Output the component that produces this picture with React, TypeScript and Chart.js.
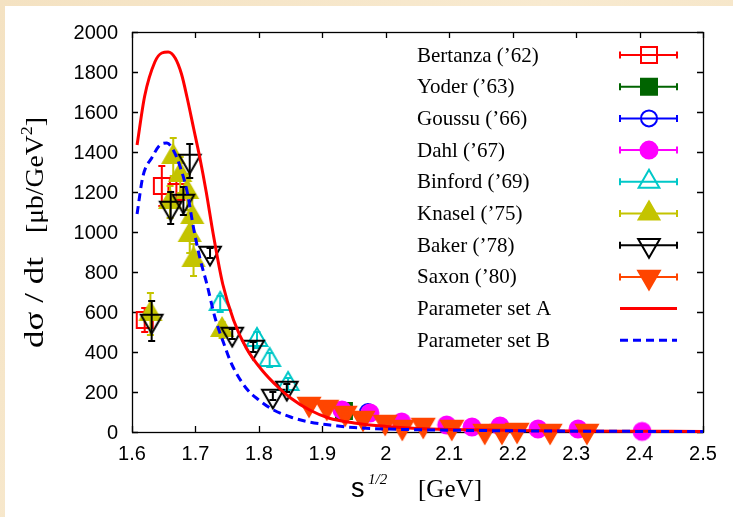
import React, { useEffect, useRef } from "react";
import { Chart, registerables } from "chart.js";

Chart.register(...registerables);

// ---------- axis ticks ----------
const xTickValues = [1.6, 1.7, 1.8, 1.9, 2.0, 2.1, 2.2, 2.3, 2.4, 2.5];
const xTickLabels = ["1.6", "1.7", "1.8", "1.9", "2", "2.1", "2.2", "2.3", "2.4", "2.5"];
const yTickValues = [0, 200, 400, 600, 800, 1000, 1200, 1400, 1600, 1800, 2000];
const yTickLabels = ["0", "200", "400", "600", "800", "1000", "1200", "1400", "1600", "1800", "2000"];

// ---------- data series ----------
const bertanzaX = [1.62, 1.647, 1.67];
const bertanzaY = [560, 1230, 1200];
const bertanzaErr = [60, 100, 60];

const yoderX = [1.934];
const yoderY = [105];
const yoderErr = [10];

const goussuX = [1.972];
const goussuY = [100];
const goussuErr = [10];

const dahlX = [1.931, 1.975, 2.025, 2.096, 2.136, 2.18, 2.24, 2.303, 2.404];
const dahlY = [110, 95, 50, 35, 25, 30, 15, 15, 3];
const dahlErr = [10, 8, 6, 5, 4, 4, 3, 3, 2];

const binfordX = [1.739, 1.797, 1.817, 1.846];
const binfordY = [640, 460, 360, 240];
const binfordErr = [40, 40, 35, 30];

const knaselX = [1.629, 1.66, 1.665, 1.676, 1.687, 1.695, 1.691, 1.697, 1.742];
const knaselY = [590, 1150, 1375, 1285, 1200, 1075, 985, 860, 510];
const knaselErr = [105, 80, 95, 90, 90, 100, 90, 80, 40];

const bakerX = [1.631, 1.661, 1.681, 1.691, 1.723, 1.758, 1.791, 1.822, 1.844];
const bakerY = [555, 1120, 1155, 1355, 895, 490, 425, 180, 220];
const bakerErr = [100, 80, 70, 85, 25, 25, 25, 20, 20];

const saxonX = [1.879, 1.907, 1.936, 1.964, 1.999, 2.026, 2.059, 2.104, 2.156, 2.183, 2.207, 2.259, 2.317];
const saxonY = [140, 125, 95, 70, 50, 25, 35, 25, 5, 5, 10, 5, 5];
const saxonErr = [10, 10, 8, 6, 5, 4, 4, 3, 2, 2, 2, 2, 2];

// ---------- model curves ----------
const curveAX = [1.608, 1.62, 1.636, 1.647, 1.657, 1.668, 1.678, 1.687, 1.697, 1.707, 1.717, 1.728, 1.743, 1.76, 1.78, 1.806, 1.83, 1.85, 1.88, 1.91, 1.95, 2.0, 2.05, 2.1, 2.2, 2.3, 2.4, 2.5];
const curveAY = [1435, 1680, 1850, 1895, 1900, 1870, 1790, 1670, 1520, 1370, 1200, 990, 740, 560, 420, 305, 225, 170, 110, 70, 45, 28, 18, 13, 8, 5, 4, 3];

const curveBX = [1.608, 1.617, 1.632, 1.644, 1.655, 1.665, 1.676, 1.687, 1.697, 1.707, 1.718, 1.731, 1.745, 1.757, 1.781, 1.8, 1.822, 1.85, 1.876, 1.912, 1.95, 2.0, 2.1, 2.2, 2.3, 2.4, 2.5];
const curveBY = [1090, 1275, 1375, 1435, 1445, 1410, 1325, 1200, 1020, 870, 740, 570, 440, 340, 215, 160, 112, 75, 52, 35, 22, 15, 9, 6, 4, 3, 2];

const legendLabels = [
  "Bertanza (\u201962)",
  "Yoder (\u201963)",
  "Goussu (\u201966)",
  "Dahl (\u201967)",
  "Binford (\u201969)",
  "Knasel (\u201975)",
  "Baker (\u201978)",
  "Saxon (\u201980)",
  "Parameter set A",
  "Parameter set B",
];

const TRANSPARENT = "rgba(0,0,0,0)";

function pts(xs: number[], ys: number[]) {
  return xs.map((x, i) => ({ x, y: ys[i] }));
}

type MarkerSpec = {
  label: string;
  xs: number[];
  ys: number[];
  errs: number[];
  color: string;
  style: string;
  radius: number;
  filled: boolean;
  rotation: number;
  order: number;
};

const markerSeries: MarkerSpec[] = [
  { label: legendLabels[0], xs: bertanzaX, ys: bertanzaY, errs: bertanzaErr, color: "#ff0000", style: "rect", radius: 8, filled: false, rotation: 0, order: 10 },
  { label: legendLabels[1], xs: yoderX, ys: yoderY, errs: yoderErr, color: "#006400", style: "rect", radius: 8, filled: true, rotation: 0, order: 9 },
  { label: legendLabels[2], xs: goussuX, ys: goussuY, errs: goussuErr, color: "#0000ff", style: "circle", radius: 8, filled: false, rotation: 0, order: 8 },
  { label: legendLabels[3], xs: dahlX, ys: dahlY, errs: dahlErr, color: "#ff00ff", style: "circle", radius: 8.5, filled: true, rotation: 0, order: 7 },
  { label: legendLabels[4], xs: binfordX, ys: binfordY, errs: binfordErr, color: "#00c8c8", style: "triangle", radius: 12, filled: false, rotation: 0, order: 6 },
  { label: legendLabels[5], xs: knaselX, ys: knaselY, errs: knaselErr, color: "#c4c400", style: "triangle", radius: 12, filled: true, rotation: 0, order: 5 },
  { label: legendLabels[6], xs: bakerX, ys: bakerY, errs: bakerErr, color: "#000000", style: "triangle", radius: 12.5, filled: false, rotation: 180, order: 4 },
  { label: legendLabels[7], xs: saxonX, ys: saxonY, errs: saxonErr, color: "#ff4500", style: "triangle", radius: 12.5, filled: true, rotation: 180, order: 3 },
];

const SERIF = '"Liberation Serif", "Times New Roman", serif';
const SANS = '"Liberation Sans", Arial, sans-serif';

function drawMarker(ctx: CanvasRenderingContext2D, m: MarkerSpec, x: number, y: number) {
  const r = m.radius;
  ctx.save();
  ctx.strokeStyle = m.color;
  ctx.fillStyle = m.color;
  ctx.lineWidth = 2;
  ctx.beginPath();
  if (m.style === "rect") {
    ctx.rect(x - r, y - r, 2 * r, 2 * r);
  } else if (m.style === "circle") {
    ctx.arc(x, y, r, 0, Math.PI * 2);
  } else {
    const rot = (m.rotation * Math.PI) / 180;
    for (let k = 0; k < 3; k++) {
      const a = rot - Math.PI / 2 + (k * 2 * Math.PI) / 3;
      const px = x + Math.cos(a) * r;
      const py = y + Math.sin(a) * r;
      if (k === 0) ctx.moveTo(px, py);
      else ctx.lineTo(px, py);
    }
    ctx.closePath();
  }
  if (m.filled) ctx.fill();
  ctx.stroke();
  ctx.restore();
}

function markerImage(m: MarkerSpec): HTMLCanvasElement {
  const size = 2 * Math.ceil(m.radius) + 6;
  const c = document.createElement("canvas");
  c.width = size;
  c.height = size;
  const cx = c.getContext("2d") as CanvasRenderingContext2D;
  drawMarker(cx, m, size / 2, size / 2);
  return c;
}

type Part = { text: string; font: string; dy?: number };

function drawParts(ctx: CanvasRenderingContext2D, parts: Part[], x: number, y: number, targetWidth?: number) {
  let total = 0;
  const widths = parts.map((p) => {
    ctx.font = p.font;
    const w = ctx.measureText(p.text).width;
    total += w;
    return w;
  });
  const sx = targetWidth ? targetWidth / total : 1;
  ctx.save();
  ctx.translate(x, y);
  ctx.scale(sx, 1);
  let cx = 0;
  parts.forEach((p, i) => {
    ctx.font = p.font;
    ctx.fillText(p.text, cx, p.dy || 0);
    cx += widths[i];
  });
  ctx.restore();
}

const backgroundPlugin = {
  id: "bgPanel",
  beforeDraw(chart: any) {
    const ctx = chart.ctx as CanvasRenderingContext2D;
    const w = chart.width;
    const h = chart.height;
    ctx.save();
    const g = ctx.createLinearGradient(0, 0, w, h);
    g.addColorStop(0, "#f4e2c2");
    g.addColorStop(0.5, "#f8ead0");
    g.addColorStop(1, "#f3e1c0");
    ctx.fillStyle = g;
    ctx.fillRect(0, 0, w, h);
    ctx.fillStyle = "#ffffff";
    ctx.fillRect(5, 6, w - 5, h - 6);
    ctx.restore();
  },
};

const framePlugin = {
  id: "frameTicks",
  beforeDatasetsDraw(chart: any) {
    const ctx = chart.ctx as CanvasRenderingContext2D;
    const { left, right, top, bottom } = chart.chartArea;
    const xs = chart.scales.x;
    const ys = chart.scales.y;
    ctx.save();
    ctx.strokeStyle = "#000000";
    ctx.lineWidth = 1.3;
    ctx.strokeRect(Math.round(left) + 0.5, Math.round(top) + 0.5, Math.round(right - left), Math.round(bottom - top));
    const tl = 6;
    ctx.beginPath();
    xTickValues.forEach((v) => {
      const px = Math.round(xs.getPixelForValue(v)) + 0.5;
      ctx.moveTo(px, bottom);
      ctx.lineTo(px, bottom - tl);
      ctx.moveTo(px, top);
      ctx.lineTo(px, top + tl);
    });
    yTickValues.forEach((v) => {
      const py = Math.round(ys.getPixelForValue(v)) + 0.5;
      ctx.moveTo(left, py);
      ctx.lineTo(left + tl, py);
      ctx.moveTo(right, py);
      ctx.lineTo(right - tl, py);
    });
    ctx.stroke();
    ctx.restore();
  },
  afterDraw(chart: any) {
    const ctx = chart.ctx as CanvasRenderingContext2D;
    const { left, bottom } = chart.chartArea;
    const xs = chart.scales.x;
    const ys = chart.scales.y;
    ctx.save();
    ctx.fillStyle = "#000000";
    ctx.font = `20px ${SANS}`;
    ctx.textBaseline = "middle";
    ctx.textAlign = "right";
    yTickValues.forEach((v, i) => {
      ctx.fillText(yTickLabels[i], left - 14, ys.getPixelForValue(v) + 1);
    });
    ctx.textAlign = "center";
    xTickValues.forEach((v, i) => {
      ctx.fillText(xTickLabels[i], xs.getPixelForValue(v), bottom + 22);
    });

    // x title
    ctx.textAlign = "left";
    ctx.textBaseline = "alphabetic";
    drawParts(ctx, [{ text: "s", font: `27px ${SANS}` }], 351, 497);
    drawParts(ctx, [{ text: "1/2", font: `italic 15px ${SERIF}` }], 368, 484);
    drawParts(ctx, [{ text: "[GeV]", font: `25px ${SERIF}` }], 418, 497, 64);

    // y title (rotated)
    ctx.save();
    ctx.translate(43, 348);
    ctx.rotate(-Math.PI / 2);
    drawParts(ctx, [{ text: "d\u03c3 / dt", font: `27px ${SERIF}` }], 0, 0, 91);
    drawParts(
      ctx,
      [
        { text: "[\u03bcb/GeV", font: `26px ${SERIF}` },
        { text: "2", font: `17px ${SERIF}`, dy: -11 },
        { text: "]", font: `26px ${SERIF}` },
      ],
      115,
      0,
      116
    );
    ctx.restore();

    // legend
    const textX = 417;
    const s0 = 620;
    const s1 = 677;
    const mx = 649;
    ctx.textBaseline = "middle";
    ctx.textAlign = "left";
    ctx.font = `21px ${SERIF}`;
    legendLabels.forEach((lab, i) => {
      const yy = 55 + i * 31.7;
      ctx.fillStyle = "#000000";
      ctx.fillText(lab, textX, yy + 1);
      if (i < markerSeries.length) {
        const m = markerSeries[i];
        ctx.strokeStyle = m.color;
        ctx.lineWidth = 2;
        ctx.beginPath();
        ctx.moveTo(s0, yy);
        ctx.lineTo(s1, yy);
        ctx.moveTo(s0, yy - 3.5);
        ctx.lineTo(s0, yy + 3.5);
        ctx.moveTo(s1, yy - 3.5);
        ctx.lineTo(s1, yy + 3.5);
        ctx.stroke();
        drawMarker(ctx, m, mx, yy);
      } else {
        ctx.lineWidth = 3;
        ctx.strokeStyle = i === 8 ? "#ff0000" : "#0000ff";
        ctx.setLineDash(i === 8 ? [] : [8, 5]);
        ctx.beginPath();
        ctx.moveTo(s0, yy);
        ctx.lineTo(s1, yy);
        ctx.stroke();
        ctx.setLineDash([]);
      }
    });
    ctx.restore();
  },
};

const errorBarPlugin = {
  id: "errorBars",
  afterDatasetDraw(chart: any, args: any) {
    const ds = chart.data.datasets[args.index] as any;
    if (!ds.errors) return;
    const ctx = chart.ctx as CanvasRenderingContext2D;
    const ys = chart.scales.y;
    const meta = args.meta;
    ctx.save();
    ctx.strokeStyle = ds.errColor;
    ctx.lineWidth = 2;
    ctx.beginPath();
    ds.data.forEach((p: any, i: number) => {
      const e = ds.errors[i];
      if (!e) return;
      const el = meta.data[i];
      const x = el.x;
      const y1 = ys.getPixelForValue(p.y + e);
      const y2 = ys.getPixelForValue(p.y - e);
      ctx.moveTo(x, y1);
      ctx.lineTo(x, y2);
      ctx.moveTo(x - 3.5, y1);
      ctx.lineTo(x + 3.5, y1);
      ctx.moveTo(x - 3.5, y2);
      ctx.lineTo(x + 3.5, y2);
    });
    ctx.stroke();
    ctx.restore();
  },
};

export default function App() {
  const ref = useRef<HTMLCanvasElement | null>(null);

  useEffect(() => {
    if (!ref.current) return;
    const datasets: any[] = markerSeries.map((m) => ({
      label: m.label,
      data: pts(m.xs, m.ys),
      errors: m.errs,
      errColor: m.color,
      showLine: false,
      pointStyle: markerImage(m),
      pointRadius: m.radius,
      pointRotation: 0,
      borderColor: m.color,
      backgroundColor: m.filled ? m.color : TRANSPARENT,
      order: m.order,
      clip: false,
    }));
    datasets.push({
      label: "Parameter set A",
      data: pts(curveAX, curveAY),
      showLine: true,
      borderColor: "#ff0000",
      borderWidth: 3,
      pointRadius: 0,
      cubicInterpolationMode: "monotone",
      order: 2,
      clip: false,
    });
    datasets.push({
      label: "Parameter set B",
      data: pts(curveBX, curveBY),
      showLine: true,
      borderColor: "#0000ff",
      borderWidth: 3,
      borderDash: [8, 5],
      pointRadius: 0,
      cubicInterpolationMode: "monotone",
      order: 1,
      clip: false,
    });

    const chart = new Chart(ref.current, {
      type: "scatter",
      data: { datasets },
      options: {
        animation: false,
        responsive: false,
        devicePixelRatio: 1,
        layout: { padding: { left: 132, top: 32, right: 30, bottom: 85 } },
        plugins: { legend: { display: false }, tooltip: { enabled: false } },
        scales: {
          x: { type: "linear", min: 1.6, max: 2.5, display: false },
          y: { type: "linear", min: 0, max: 2000, display: false },
        },
      },
      plugins: [backgroundPlugin, framePlugin, errorBarPlugin],
    } as any);
    return () => chart.destroy();
  }, []);

  return (
    <canvas
      ref={ref}
      width={733}
      height={517}
      style={{ position: "absolute", left: 0, top: 0, width: 733, height: 517 }}
    />
  );
}
